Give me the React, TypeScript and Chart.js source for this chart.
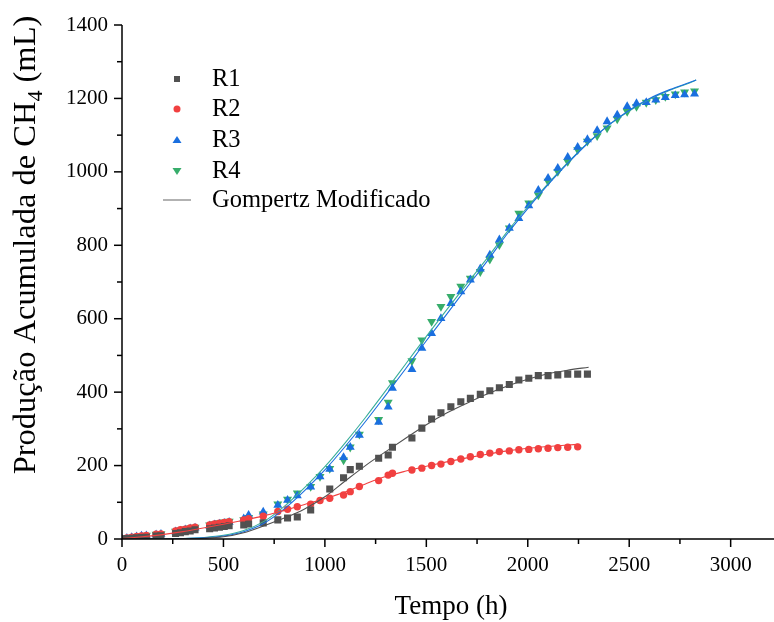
import React, { useEffect, useRef } from 'react';
import { Chart, registerables } from 'chart.js';
Chart.register(...registerables);

const FONT = '"Liberation Serif", "Times New Roman", serif';

const tempo = [
  0, 24, 48, 72, 96, 120, 168, 192,
  264, 288, 312, 336, 360,
  432, 456, 480, 504,
  528,
  600, 624,
  696, 768, 816, 864, 930,
  976, 1024, 1092, 1125, 1170,
  1265, 1312, 1333, 1429, 1478,
  1526, 1572, 1621, 1670, 1717,
  1766, 1813, 1860, 1909, 1956,
  2005, 2052, 2100, 2148, 2197,
  2246, 2294, 2342, 2391, 2441,
  2490, 2536, 2584, 2631, 2678,
  2727, 2773, 2822,
];

const r1 = [
  0, 1, 2, 3, 4, 5, 8, 9,
  15, 17, 20, 22, 25,
  28, 30, 32, 34,
  36,
  38, 41,
  44, 52, 57, 60, 79,
  null, 136, 167, 189, 198,
  220, 229, 250, 275, 302,
  327, 344, 360, 374, 383,
  394, 404, 412, 421, 433,
  438, 445, 445, 447, 449,
  449, 449,
];

const r2 = [
  0, 3, 5, 7, 8, 10, 13, 14,
  22, 25, 27, 30, 32,
  38, 41, 43, 45,
  47,
  52, 55,
  62, 75, 81, 88, 95,
  105, 111, 120, 129, 143,
  159, 174, 179, 188, 193,
  200, 204, 211, 218, 224,
  230, 234, 238, 240, 243,
  244, 246, 247, 249, 250,
  251,
];

const r3 = [
  0, 2, 4, 6, 8, 9, 12, 13,
  20, 22, 25, 28, 30,
  36, 39, 41, 43,
  46,
  55, 65,
  74, 92, 106, 118, 142,
  170, 190, 222, 250, 283,
  318, 360, 411, 462, 520,
  560, 601, 642, 674, 706,
  736, 774, 815, 847, 873,
  908, 950, 983, 1010, 1040,
  1067, 1088, 1113, 1137, 1155,
  1178, 1186, 1189, 1196, 1203,
  1208, 1210, 1212,
];

const r4 = [
  0, 2, 4, 6, 8, 10, 13, 14,
  21, 24, 27, 30, 32,
  38, 41, 44, 46,
  48,
  52, 58,
  68, 95, 108, 125, 143,
  170, 192, 215, 250, 285,
  325, 372, 425, 485, 542,
  592, 633, 660, 688, 710,
  728, 762, 801, 847, 887,
  915, 937, 974, 1001, 1028,
  1060, 1083, 1098, 1119, 1144,
  1164, 1178, 1189, 1196, 1205,
  1212, 1217, 1220,
];

// Gompertz Modificado fitted curves
const fitTempoR1 = [0, 200, 300, 400, 500, 600, 700, 800, 900, 1000, 1100, 1200, 1300, 1400, 1500, 1600, 1700, 1800, 1900, 2000, 2100, 2200, 2300];
const fitR1 = [0, 0, 0.5, 2, 6, 17, 36, 57, 82, 115, 158, 200, 238, 275, 311, 343, 370, 395, 417, 435, 450, 460, 468];

const fitTempoR2 = [0, 100, 200, 300, 400, 500, 600, 700, 800, 900, 1000, 1100, 1200, 1300, 1400, 1500, 1600, 1700, 1800, 1900, 2000, 2100, 2200, 2250];
const fitR2 = [1, 6, 12, 20, 30, 40, 51, 63, 78, 94, 110, 128, 150, 170, 185, 198, 210, 221, 231, 240, 247, 252, 256, 258];

const fitTempoR34 = [0, 200, 300, 400, 500, 600, 700, 800, 900, 1000, 1100, 1200, 1300, 1400, 1500, 1600, 1700, 1800, 1900, 2000, 2100, 2200, 2300, 2400, 2500, 2600, 2700, 2800, 2830];
const fitR3 = [0, 0.2, 1, 3, 8, 20, 43, 82, 132, 188, 252, 320, 392, 465, 540, 612, 685, 757, 832, 900, 965, 1025, 1080, 1128, 1168, 1200, 1224, 1244, 1250];
const fitR4 = [0, 0.3, 1.2, 4, 10, 23, 48, 89, 140, 197, 262, 331, 404, 478, 552, 624, 695, 765, 838, 905, 968, 1027, 1081, 1128, 1166, 1198, 1222, 1243, 1250];

const xTicks = [0, 500, 1000, 1500, 2000, 2500, 3000];
const yTicks = [0, 200, 400, 600, 800, 1000, 1200, 1400];

const seriesNames = ['R1', 'R2', 'R3', 'R4'];
const fitName = 'Gompertz Modificado';

const C1 = '#515151';
const C2 = '#F14040';
const C3 = '#1A6FDF';
const C4 = '#37AD6B';

function pts(xs: number[], ys: (number | null)[]) {
  const out: { x: number; y: number }[] = [];
  for (let i = 0; i < ys.length; i++) {
    const v = ys[i];
    if (v !== null && v !== undefined) out.push({ x: xs[i], y: v });
  }
  return out;
}

const decorPlugin = {
  id: 'decor',
  afterDraw(chart: any) {
    const ctx = chart.ctx as CanvasRenderingContext2D;
    const xs = chart.scales.x;
    const ys = chart.scales.y;
    const area = chart.chartArea;
    ctx.save();
    ctx.strokeStyle = '#000';
    ctx.lineWidth = 1.5;
    // axes
    ctx.beginPath();
    ctx.moveTo(area.left, ys.getPixelForValue(1400));
    ctx.lineTo(area.left, area.bottom);
    ctx.lineTo(chart.width, area.bottom);
    ctx.stroke();
    // x ticks
    for (let v = 0; v <= 3000; v += 250) {
      const px = xs.getPixelForValue(v);
      const len = v % 500 === 0 ? 8 : 5;
      ctx.beginPath();
      ctx.moveTo(px, area.bottom);
      ctx.lineTo(px, area.bottom + len);
      ctx.stroke();
    }
    for (let v = 0; v <= 1400; v += 100) {
      const py = ys.getPixelForValue(v);
      const len = v % 200 === 0 ? 8 : 5;
      ctx.beginPath();
      ctx.moveTo(area.left, py);
      ctx.lineTo(area.left - len, py);
      ctx.stroke();
    }
    // x title
    ctx.fillStyle = '#000';
    ctx.font = `27px ${FONT}`;
    ctx.textAlign = 'center';
    ctx.textBaseline = 'alphabetic';
    ctx.fillText('Tempo (h)', 451, 614);
    // y title with subscript
    ctx.save();
    ctx.translate(35, 245);
    ctx.rotate(-Math.PI / 2);
    const big = `32.5px ${FONT}`;
    const small = `22px ${FONT}`;
    const p1 = 'Produção Acumulada de CH';
    const p2 = '4';
    const p3 = ' (mL)';
    ctx.font = big;
    const w1 = ctx.measureText(p1).width;
    const w3 = ctx.measureText(p3).width;
    ctx.font = small;
    const w2 = ctx.measureText(p2).width;
    const total = w1 + w2 + w3;
    let cx = -total / 2;
    ctx.textAlign = 'left';
    ctx.font = big;
    ctx.fillText(p1, cx, 0);
    cx += w1;
    ctx.font = small;
    ctx.fillText(p2, cx, 7);
    cx += w2;
    ctx.font = big;
    ctx.fillText(p3, cx, 0);
    ctx.restore();

    // legend
    const lx = 177;
    const tx = 212;
    const rows = [79, 109, 140, 171, 200];
    ctx.font = `24.5px ${FONT}`;
    ctx.textAlign = 'left';
    ctx.textBaseline = 'middle';
    ctx.fillStyle = C1;
    ctx.fillRect(lx - 3, rows[0] - 3, 6, 6);
    ctx.fillStyle = C2;
    ctx.beginPath();
    ctx.arc(lx, rows[1], 3.5, 0, Math.PI * 2);
    ctx.fill();
    ctx.fillStyle = C3;
    ctx.beginPath();
    ctx.moveTo(lx, rows[2] - 4);
    ctx.lineTo(lx + 4.5, rows[2] + 3);
    ctx.lineTo(lx - 4.5, rows[2] + 3);
    ctx.closePath();
    ctx.fill();
    ctx.fillStyle = C4;
    ctx.beginPath();
    ctx.moveTo(lx, rows[3] + 4);
    ctx.lineTo(lx + 4.5, rows[3] - 3);
    ctx.lineTo(lx - 4.5, rows[3] - 3);
    ctx.closePath();
    ctx.fill();
    ctx.strokeStyle = '#999999';
    ctx.lineWidth = 1.5;
    ctx.beginPath();
    ctx.moveTo(163, rows[4]);
    ctx.lineTo(191, rows[4]);
    ctx.stroke();
    ctx.fillStyle = '#000';
    seriesNames.forEach((n, i) => ctx.fillText(n, tx, rows[i] + 1));
    ctx.fillText(fitName, tx, rows[4] + 1);
    ctx.restore();
  },
};

export default function App() {
  const ref = useRef<HTMLCanvasElement | null>(null);
  useEffect(() => {
    if (!ref.current) return;
    const pointDs = (label: string, ys: (number | null)[], color: string, style: string, radius: number, rotation = 0) => ({
      type: 'scatter' as const,
      label,
      data: pts(tempo, ys),
      showLine: false,
      pointStyle: style,
      pointRadius: radius,
      pointRotation: rotation,
      pointBackgroundColor: color,
      pointBorderColor: color,
      pointBorderWidth: 0,
      backgroundColor: color,
      borderColor: color,
      order: 2,
    });
    const fitDs = (ys: number[], xs: number[], color: string) => ({
      type: 'line' as const,
      label: fitName,
      data: pts(xs, ys),
      borderColor: color,
      borderWidth: 1.1,
      pointRadius: 0,
      tension: 0.4,
      cubicInterpolationMode: 'monotone' as const,
      fill: false,
      order: 1,
    });
    const chart = new Chart(ref.current, {
      type: 'scatter',
      data: {
        datasets: [
          fitDs(fitR1, fitTempoR1, C1),
          fitDs(fitR2, fitTempoR2, C2),
          fitDs(fitR3, fitTempoR34, C3),
          fitDs(fitR4, fitTempoR34, '#3AAE9A'),
          pointDs('R1', r1, C1, 'rect', 5),
          pointDs('R2', r2, C2, 'circle', 3.7),
          pointDs('R3', r3, C3, 'triangle', 5.2),
          pointDs('R4', r4, C4, 'triangle', 5.2, 180),
        ] as any,
      },
      options: {
        responsive: false,
        animation: false,
        layout: { padding: { top: 25, right: 0, left: 0, bottom: 0 } },
        plugins: {
          legend: { display: false },
          tooltip: { enabled: false },
          title: { display: false },
        },
        scales: {
          x: {
            type: 'linear',
            min: 0,
            max: 3188,
            grid: { display: false, drawTicks: false },
            border: { display: false },
            afterBuildTicks: (s: any) => {
              s.ticks = xTicks.map((v) => ({ value: v }));
            },
            afterFit: (s: any) => {
              s.height = 83;
              s.paddingRight = 0;
              s.paddingLeft = 0;
            },
            ticks: {
              font: { family: FONT, size: 21 },
              color: '#000',
              padding: 14,
              maxRotation: 0,
              autoSkip: false,
              callback: (v: any) => String(v),
            },
          },
          y: {
            type: 'linear',
            min: 0,
            max: 1400,
            grid: { display: false, drawTicks: false },
            border: { display: false },
            afterBuildTicks: (s: any) => {
              s.ticks = yTicks.map((v) => ({ value: v }));
            },
            afterFit: (s: any) => {
              s.width = 122;
              s.paddingTop = 0;
              s.paddingBottom = 0;
            },
            ticks: {
              font: { family: FONT, size: 21 },
              color: '#000',
              padding: 14,
              autoSkip: false,
              callback: (v: any) => String(v),
            },
          },
        },
      },
      plugins: [decorPlugin],
    });
    return () => chart.destroy();
  }, []);
  return (
    <div style={{ position: 'absolute', left: 0, top: 0, width: 774, height: 622, background: '#fff' }}>
      <canvas ref={ref} width={774} height={622} style={{ display: 'block' }} />
    </div>
  );
}
